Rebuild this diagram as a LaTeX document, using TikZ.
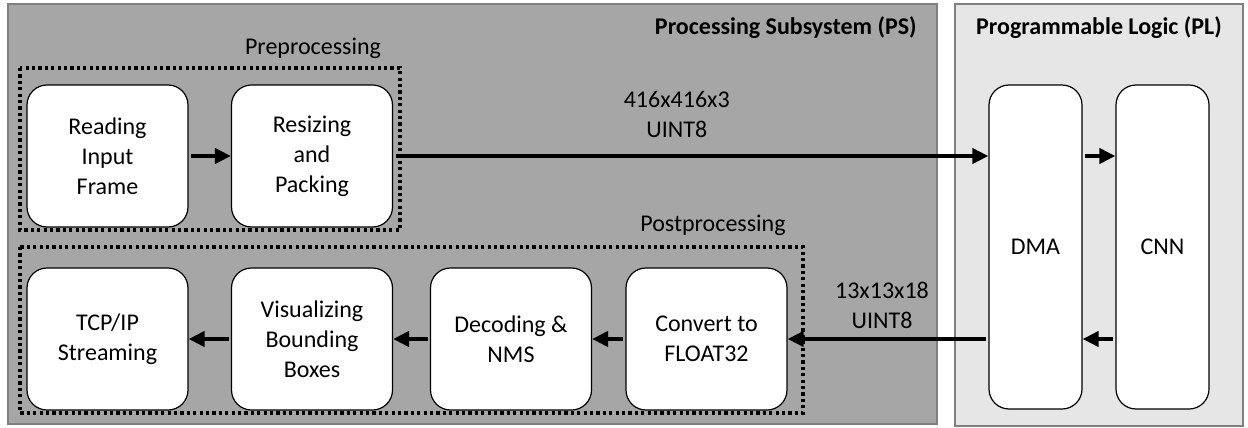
\documentclass[tikz,border=0pt]{standalone}
\usepackage{fontspec}
\setmainfont{Carlito}
\usetikzlibrary{arrows.meta,positioning}
\definecolor{psgray}{HTML}{A6A6A6}
\definecolor{plgray}{HTML}{E7E6E6}
\definecolor{edgegray}{HTML}{808080}
\begin{document}
\begin{tikzpicture}[x=0.5pt, y=-0.5pt,
  block/.style={draw=black, line width=0.6pt, fill=white, rounded corners=10pt,
    align=center, font=\fontsize{12}{15}\selectfont, inner sep=0pt},
  stage/.style={block, minimum width=80.5pt, minimum height=71pt},
  lane/.style={block, minimum width=46.5pt, minimum height=162pt},
  flow/.style={line width=2.3pt, -{Triangle[length=8pt,width=7.5pt]}, shorten <=1.2pt},
  group/.style={line width=1.8pt, dash pattern=on 1.6pt off 1.6pt},
  note/.style={font=\fontsize{12}{15}\selectfont, inner sep=0pt, align=center}]
  \useasboundingbox (0,0) rectangle (1248,428);
  % the two subsystems
  \draw [draw=edgegray, fill=psgray, line width=0.8pt] (8,4) rectangle (937,424);
  \draw [draw=edgegray, fill=plgray, line width=0.8pt] (955,4) rectangle (1243,426);
  \node [note, font=\fontsize{12}{15}\selectfont\bfseries, anchor=east] (pstitle) at (917,28) {Processing Subsystem (PS)};
  \node [note, font=\fontsize{12}{15}\selectfont\bfseries] (pltitle) at (1099,28) {Programmable Logic (PL)};
  % dotted groups
  \draw [group] (20,68) rectangle (400,230);
  \draw [group] (20,247) rectangle (803,413);
  \node [note] (pretitle) at (313,48) {Preprocessing};
  \node [note] (posttitle) at (713,225) {Postprocessing};
  % stages
  \node [stage] (reading) at (107.5,156) {Reading\\Input\\Frame};
  \node [stage] (resizing) at (312,156) {Resizing\\and\\Packing};
  \node [stage] (tcpip) at (107.5,339) {TCP/IP\\Streaming};
  \node [stage] (visual) at (312,339) {Visualizing\\Bounding\\Boxes};
  \node [stage] (decoding) at (511,339) {Decoding \&\\NMS};
  \node [stage] (convert) at (706.5,339) {Convert to\\FLOAT32};
  \node [lane] (dma) at (1035.5,247) {DMA};
  \node [lane] (cnn) at (1162.5,247) {CNN};
  % connections
  \draw [flow] (reading) -- (resizing);
  \draw [flow] (resizing.east) -- (resizing.east -| dma.west)
    node [note, midway, above=8pt, xshift=-7pt] (inlabel) {416x416x3\\UINT8};
  \draw [flow] (dma.east |- resizing.east) -- (cnn.west |- resizing.east);
  \draw [flow] (cnn.west |- convert.east) -- (dma.east |- convert.east);
  \draw [flow] (dma.west |- convert.east) -- (convert.east)
    node [note, midway, above=4pt, xshift=-3pt] (outlabel) {13x13x18\\UINT8};
  \draw [flow] (convert) -- (decoding);
  \draw [flow] (decoding) -- (visual);
  \draw [flow] (visual) -- (tcpip);
\end{tikzpicture}
\end{document}
